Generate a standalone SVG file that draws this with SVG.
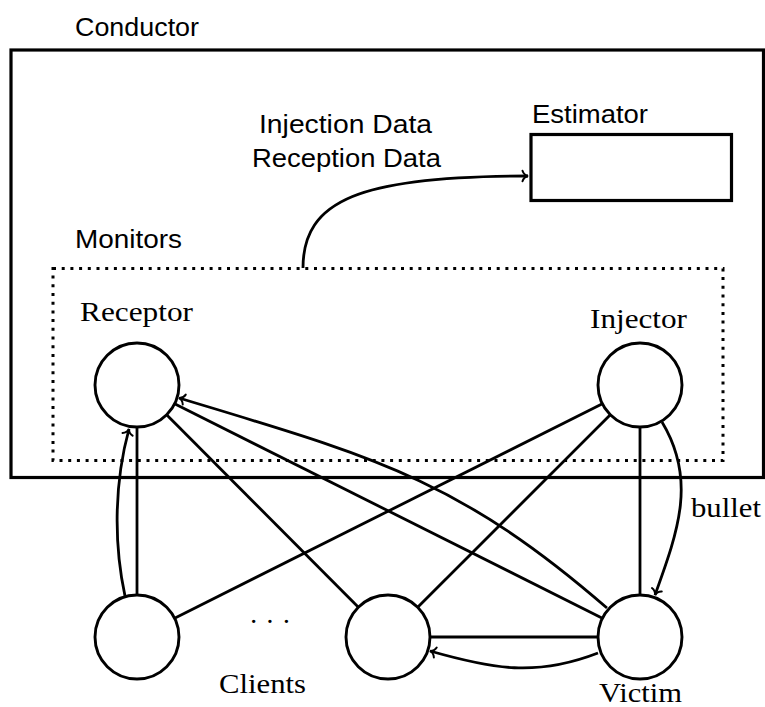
<svg xmlns="http://www.w3.org/2000/svg" width="765" height="707" viewBox="0 0 765 707">
<defs>
<style>
.sans{font-family:"Liberation Sans","DejaVu Sans",sans-serif;font-size:26px;fill:#000}
.serif{font-family:"Liberation Serif","DejaVu Serif",serif;font-size:28px;fill:#000}
.node{fill:#fff;stroke:#000;stroke-width:2.9}
.edge{fill:none;stroke:#000;stroke-width:2.8}
.box{fill:#fff;stroke:#000;stroke-width:3.2}
.arr{marker-end:url(#to)}
</style>
<marker id="to" markerUnits="userSpaceOnUse" markerWidth="14" markerHeight="14" viewBox="-7 -7 14 14" refX="0" refY="0" orient="auto">
<path d="M -5.5,-5.2 C -4.5,-2 -2,-0.5 0,0 C -2,0.5 -4.5,2 -5.5,5.2" fill="none" stroke="#000" stroke-width="2" stroke-linecap="round"/>
</marker>
</defs>
<rect width="765" height="707" fill="#fff"/>

<g id="conductor">
<rect x="11" y="50" width="752.5" height="427.5" fill="none" stroke="#000" stroke-width="3.2"/>
<text class="sans" x="75" y="36" textLength="124" lengthAdjust="spacingAndGlyphs">Conductor</text>
</g>

<g id="estimator">
<rect class="box" x="531" y="134.5" width="200.5" height="66"/>
<text class="sans" x="532" y="123" textLength="116" lengthAdjust="spacingAndGlyphs">Estimator</text>
</g>

<g id="monitors">
<rect x="53" y="268.5" width="670" height="192" fill="none" stroke="#000" stroke-width="3" stroke-dasharray="3 5.7"/>
<text class="sans" x="75" y="248" textLength="107" lengthAdjust="spacingAndGlyphs">Monitors</text>
</g>

<g id="connectors">
<path class="edge arr" d="M 303,268 C 303,200 360,176 528,176"/>
<line class="edge" x1="137" y1="595" x2="137" y2="427"/>
<path class="edge arr" d="M 125,596 C 113,540 115,480 129,429"/>
<line class="edge" x1="166.6" y1="414.8" x2="358.4" y2="607.2"/>
<line class="edge" x1="174.6" y1="403.8" x2="602.4" y2="618.2"/>
<path class="edge arr" d="M 607,608 C 456,477 370,456 179,398"/>
<line class="edge" x1="174.6" y1="618.2" x2="602.4" y2="403.8"/>
<line class="edge" x1="417.7" y1="607.3" x2="610.3" y2="414.7"/>
<line class="edge" x1="640" y1="427" x2="640" y2="595"/>
<path class="edge arr" d="M 662,422 C 697,480 678,531 655,595"/>
<line class="edge" x1="430" y1="637" x2="598" y2="637"/>
<path class="edge arr" d="M 598,653 C 536,677 493,669 430,651"/>
</g>

<g id="data-label">
<text class="sans" x="259" y="133" textLength="173" lengthAdjust="spacingAndGlyphs">Injection Data</text>
<text class="sans" x="252" y="167" textLength="189" lengthAdjust="spacingAndGlyphs">Reception Data</text>
</g>

<g id="receptor">
<circle class="node" cx="137" cy="385" r="42"/>
<text class="serif" x="80" y="321" textLength="113" lengthAdjust="spacingAndGlyphs">Receptor</text>
</g>

<g id="injector">
<circle class="node" cx="640" cy="385" r="42"/>
<text class="serif" x="590" y="328" textLength="97" lengthAdjust="spacingAndGlyphs">Injector</text>
</g>

<g id="client1">
<circle class="node" cx="137" cy="637" r="42"/>
</g>

<g id="client2">
<circle class="node" cx="388" cy="637" r="42"/>
</g>

<g id="victim">
<circle class="node" cx="640" cy="637" r="42"/>
<text class="serif" x="599" y="702" textLength="83" lengthAdjust="spacingAndGlyphs">Victim</text>
</g>

<g id="clients-label">
<text class="serif" x="249" y="631" font-size="20">· · ·</text>
<text class="serif" x="219" y="693" textLength="87" lengthAdjust="spacingAndGlyphs">Clients</text>
</g>

<g id="bullet-label">
<text class="serif" x="691" y="517" textLength="70" lengthAdjust="spacingAndGlyphs">bullet</text>
</g>
</svg>
